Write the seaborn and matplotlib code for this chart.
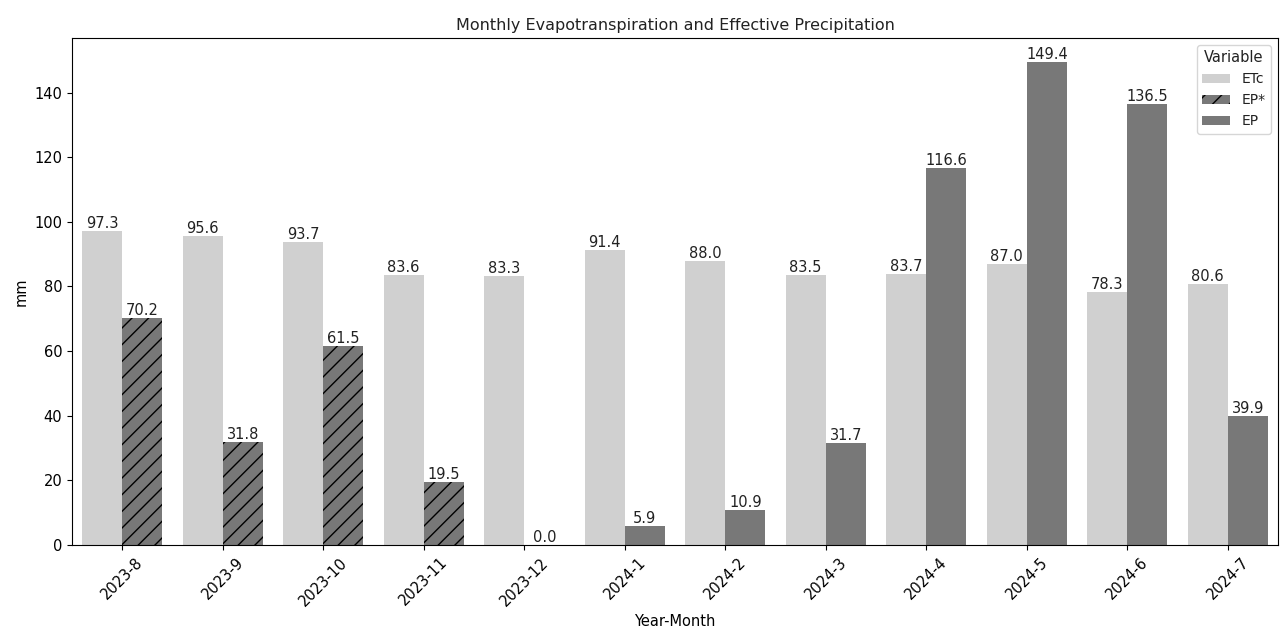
import pandas as pd
import matplotlib
matplotlib.use("Agg")
import matplotlib.pyplot as plt
import matplotlib.patches as mpatches
import seaborn as sns

meses = ["2023-8", "2023-9", "2023-10", "2023-11", "2023-12", "2024-1",
         "2024-2", "2024-3", "2024-4", "2024-5", "2024-6", "2024-7"]
etc = [97.3, 95.6, 93.7, 83.6, 83.3, 91.4, 88.0, 83.5, 83.7, 87.0, 78.3, 80.6]
ep = [70.2, 31.8, 61.5, 19.5, 0.0, 5.9, 10.9, 31.7, 116.6, 149.4, 136.5, 39.9]
# meses con EP estimada (se dibujan con rayado)
n_estimados = 5

colores = {"ETc": "#d0d0d0", "EP": "#787878"}

df = pd.DataFrame({
    "Year-Month": meses * 2,
    "Variable": ["ETc"] * len(meses) + ["EP"] * len(meses),
    "mm": etc + ep,
})

plt.rcParams["font.size"] = 10.5
plt.rcParams["text.color"] = "#222222"

fig, ax = plt.subplots(figsize=(12.83, 6.31), dpi=100)
sns.barplot(data=df, x="Year-Month", y="mm", hue="Variable",
            palette=colores, ax=ax, legend=False)

# rayado para EP* en los primeros meses
barras_ep = ax.containers[1]
for i, barra in enumerate(barras_ep):
    if i < n_estimados:
        barra.set_hatch("//")
        barra.set_edgecolor("black")
        barra.set_linewidth(0)

for cont in ax.containers:
    ax.bar_label(cont, fmt="%.1f", fontsize=10.5, color="#222222")

handles = [
    mpatches.Patch(facecolor=colores["ETc"], label="ETc"),
    mpatches.Patch(facecolor=colores["EP"], hatch="//", edgecolor="black", linewidth=0, label="EP*"),
    mpatches.Patch(facecolor=colores["EP"], label="EP"),
]
ax.legend(handles=handles, title="Variable", loc="upper right", fontsize=10)

ax.set_title("Monthly Evapotranspiration and Effective Precipitation", fontsize=11.5)
ax.set_xlabel("Year-Month")
ax.set_ylabel("mm")
plt.xticks(rotation=45)
plt.subplots_adjust(left=0.0561, right=0.9961, top=0.9398, bottom=0.1363)
plt.savefig("out.png", dpi=100)
